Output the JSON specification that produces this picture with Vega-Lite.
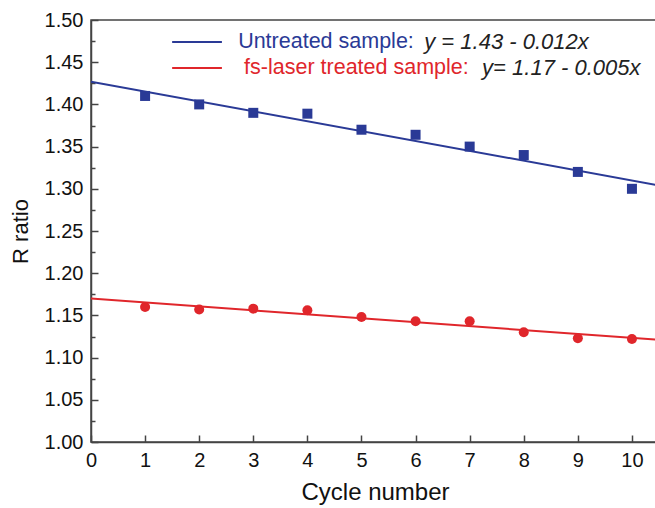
{
  "$schema": "https://vega.github.io/schema/vega-lite/v6.json",
  "width": 568,
  "height": 422,
  "autosize": {"type": "none"},
  "padding": {"left": 91, "top": 20, "right": 0, "bottom": 66},
  "background": "white",
  "config": {
    "font": "Liberation Sans",
    "view": {"stroke": "#444", "strokeWidth": 1.5},
    "axis": {
      "domainColor": "#444", "domainWidth": 1.5, "tickColor": "#444", "tickWidth": 1.5,
      "labelColor": "#111", "titleColor": "#111", "grid": false,
      "labelFont": "Liberation Sans", "titleFont": "Liberation Sans",
      "labelFontSize": 20, "titleFontSize": 22, "titleFontWeight": "normal"
    }
  },
  "datasets": {
    "points": [
      {"cycle": 1, "r": 1.410, "sample": "Untreated"},
      {"cycle": 2, "r": 1.400, "sample": "Untreated"},
      {"cycle": 3, "r": 1.390, "sample": "Untreated"},
      {"cycle": 4, "r": 1.389, "sample": "Untreated"},
      {"cycle": 5, "r": 1.370, "sample": "Untreated"},
      {"cycle": 6, "r": 1.364, "sample": "Untreated"},
      {"cycle": 7, "r": 1.350, "sample": "Untreated"},
      {"cycle": 8, "r": 1.340, "sample": "Untreated"},
      {"cycle": 9, "r": 1.320, "sample": "Untreated"},
      {"cycle": 10, "r": 1.300, "sample": "Untreated"},
      {"cycle": 1, "r": 1.160, "sample": "fs-laser"},
      {"cycle": 2, "r": 1.157, "sample": "fs-laser"},
      {"cycle": 3, "r": 1.158, "sample": "fs-laser"},
      {"cycle": 4, "r": 1.156, "sample": "fs-laser"},
      {"cycle": 5, "r": 1.148, "sample": "fs-laser"},
      {"cycle": 6, "r": 1.143, "sample": "fs-laser"},
      {"cycle": 7, "r": 1.143, "sample": "fs-laser"},
      {"cycle": 8, "r": 1.130, "sample": "fs-laser"},
      {"cycle": 9, "r": 1.123, "sample": "fs-laser"},
      {"cycle": 10, "r": 1.122, "sample": "fs-laser"}
    ],
    "fits": [
      {"cycle": 0, "r": 1.427, "sample": "Untreated"},
      {"cycle": 10.5, "r": 1.304, "sample": "Untreated"},
      {"cycle": 0, "r": 1.170, "sample": "fs-laser"},
      {"cycle": 10.5, "r": 1.121, "sample": "fs-laser"}
    ],
    "legend": [
      {"sample": "Untreated", "x1": 1.5, "x2": 2.42, "y": 1.474, "name": "Untreated sample:", "nx": 2.72, "eq": "y = 1.43 - 0.012x", "ex": 6.16},
      {"sample": "fs-laser", "x1": 1.5, "x2": 2.42, "y": 1.443, "name": "fs-laser treated sample:", "nx": 2.83, "eq": "y= 1.17 - 0.005x", "ex": 7.23}
    ],
    "minor": [
      {"v": 1.025}, {"v": 1.075}, {"v": 1.125}, {"v": 1.175}, {"v": 1.225},
      {"v": 1.275}, {"v": 1.325}, {"v": 1.375}, {"v": 1.425}, {"v": 1.475}
    ]
  },
  "resolve": {"axis": {"y": "independent"}},
  "layer": [
    {
      "data": {"name": "fits"},
      "mark": {"type": "line", "strokeWidth": 2, "clip": true},
      "encoding": {
        "x": {"field": "cycle", "type": "quantitative",
              "scale": {"domain": [0, 10.5], "nice": false, "zero": false},
              "axis": {"values": [0,1,2,3,4,5,6,7,8,9,10], "format": "d", "title": "Cycle number", "titleFontSize": 24, "tickSize": -7, "labelPadding": 15, "titlePadding": 10, "labelFlush": false}},
        "y": {"field": "r", "type": "quantitative",
              "scale": {"domain": [1.0, 1.5], "nice": false, "zero": false},
              "axis": {"values": [1.0,1.05,1.1,1.15,1.2,1.25,1.3,1.35,1.4,1.45,1.5], "format": ".2f", "title": "R ratio", "tickSize": -7, "labelPadding": 15, "titlePadding": 12, "labelFlush": false}},
        "color": {"field": "sample", "type": "nominal",
                  "scale": {"domain": ["Untreated", "fs-laser"], "range": ["#2a3a96", "#e0262b"]}, "legend": null},
        "detail": {"field": "sample"}
      }
    },
    {
      "data": {"name": "points"},
      "mark": {"type": "point", "filled": true, "opacity": 1, "size": 100},
      "encoding": {
        "x": {"field": "cycle", "type": "quantitative"},
        "y": {"field": "r", "type": "quantitative", "axis": null},
        "shape": {"field": "sample", "type": "nominal",
                  "scale": {"domain": ["Untreated", "fs-laser"], "range": ["square", "circle"]}, "legend": null},
        "color": {"field": "sample", "type": "nominal", "legend": null}
      }
    },
    {
      "data": {"name": "legend"},
      "mark": {"type": "rule", "strokeWidth": 2},
      "encoding": {
        "x": {"field": "x1", "type": "quantitative"},
        "x2": {"field": "x2"},
        "y": {"field": "y", "type": "quantitative", "axis": null},
        "color": {"field": "sample", "type": "nominal", "legend": null}
      }
    },
    {
      "data": {"name": "legend"},
      "mark": {"type": "text", "align": "left", "baseline": "middle", "fontSize": 21.5, "font": "Liberation Sans"},
      "encoding": {
        "x": {"field": "nx", "type": "quantitative"},
        "y": {"field": "y", "type": "quantitative", "axis": null},
        "text": {"field": "name"},
        "color": {"field": "sample", "type": "nominal", "legend": null}
      }
    },
    {
      "data": {"name": "legend"},
      "mark": {"type": "text", "align": "left", "baseline": "middle", "fontSize": 22, "font": "Liberation Sans", "fontStyle": "italic", "color": "#222"},
      "encoding": {
        "x": {"field": "ex", "type": "quantitative"},
        "y": {"field": "y", "type": "quantitative", "axis": null},
        "text": {"field": "eq"}
      }
    },
    {
      "data": {"name": "minor"},
      "mark": {"type": "tick", "opacity": 0},
      "encoding": {
        "y": {"field": "v", "type": "quantitative",
              "axis": {"orient": "left", "values": [1.025,1.075,1.125,1.175,1.225,1.275,1.325,1.375,1.425,1.475], "labels": false, "domain": false, "title": null, "tickSize": -4}}
      }
    }
  ]
}
